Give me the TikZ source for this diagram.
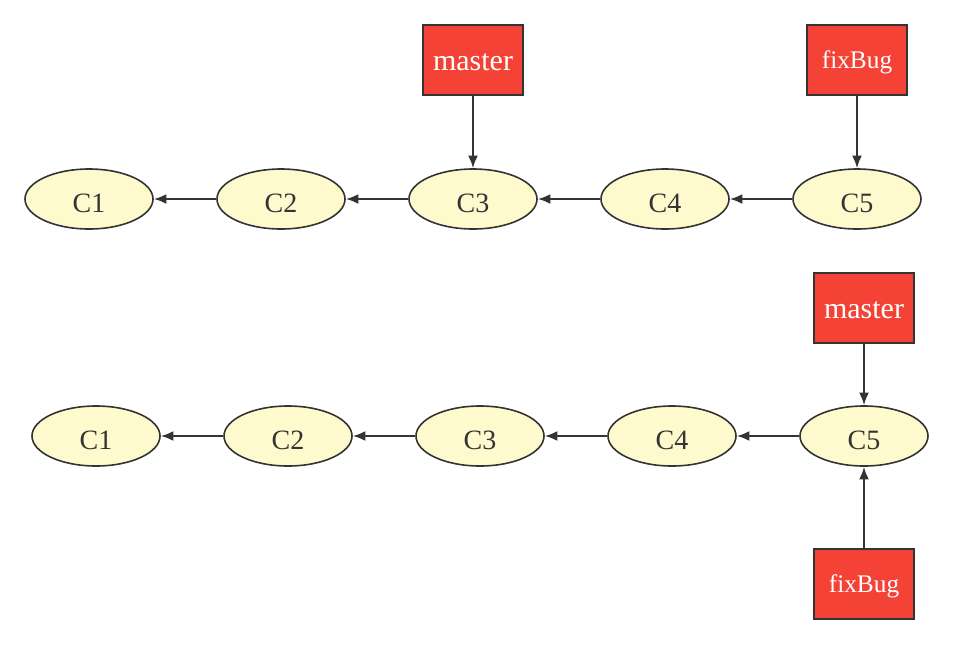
\documentclass[tikz,border=0pt]{standalone}
\usepackage{fontspec}
\setmainfont{Liberation Serif}
\usetikzlibrary{shapes.geometric, arrows.meta, positioning}
\definecolor{tagred}{HTML}{F44336}
\definecolor{commityellow}{HTML}{FFFACD}
\definecolor{edgegray}{HTML}{333333}

\begin{document}
\begin{tikzpicture}[x=0.75pt, y=-0.75pt, node distance=144pt,
 >={Latex[length=9.5pt,width=7.5pt]},
 commit/.style={ellipse,draw=edgegray,fill=commityellow,line width=1.2pt,
  minimum width=96pt,minimum height=45pt,inner sep=0pt,text=edgegray,
  text height=19.5pt,text depth=0pt,font=\fontsize{21}{21}\selectfont},
 branch/.style={rectangle,draw=edgegray,fill=tagred,line width=1.5pt,
  minimum width=75pt,minimum height=52.5pt,inner sep=0pt,text=white,
  text depth=0pt},
 link/.style={->,draw=edgegray,line width=1.5pt}]
 \useasboundingbox (0,0) rectangle (953,644);

  % before the merge
  \node[commit] (a1) at (89,199) {C1};
  \node[commit] (a2) [right of=a1] {C2};
  \node[commit] (a3) [right of=a2] {C3};
  \node[commit] (a4) [right of=a3] {C4};
  \node[commit] (a5) [right of=a4] {C5};
  \node[branch,text height=15pt,font=\fontsize{22.5}{22.5}\selectfont] (ma) at (473,60) {master};
  \node[branch,text height=12.5pt,font=\fontsize{19}{19}\selectfont] (fa) at (857,60) {fixBug};

  % after the fast-forward
  \node[commit] (b1) at (96,436) {C1};
  \node[commit] (b2) [right of=b1] {C2};
  \node[commit] (b3) [right of=b2] {C3};
  \node[commit] (b4) [right of=b3] {C4};
  \node[commit] (b5) [right of=b4] {C5};
  \node[branch,text height=15pt,font=\fontsize{22.5}{22.5}\selectfont] (mb) at (864,308) {master};
  \node[branch,text height=12.5pt,font=\fontsize{19}{19}\selectfont] (fb) at (864,584) {fixBug};

  \foreach \s/\t in {a2/a1, a3/a2, a4/a3, a5/a4, ma/a3, fa/a5,
   b2/b1, b3/b2, b4/b3, b5/b4, mb/b5, fb/b5} {
   \draw[link] (\s) -- (\t);}
\end{tikzpicture}
\end{document}
